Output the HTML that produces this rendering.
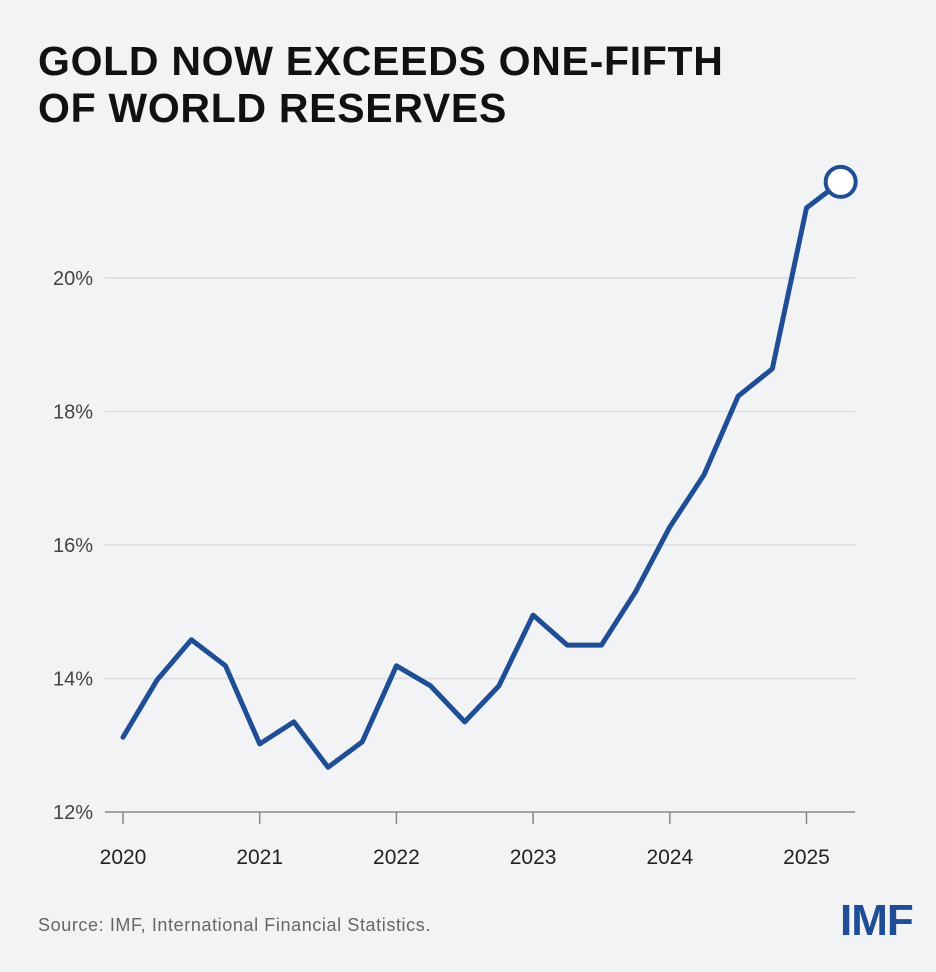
<!DOCTYPE html>
<html><head><meta charset="utf-8"><style>
body{margin:0;background:#f2f3f5;width:936px;height:972px;overflow:hidden;font-family:"Liberation Sans",sans-serif}
h1{position:absolute;left:38px;top:38px;margin:0;font-size:41px;line-height:47px;font-weight:bold;color:#111;letter-spacing:0.7px}
.src{position:absolute;left:38px;top:915px;font-size:18px;color:#666;letter-spacing:0.6px}
.logo{position:absolute;left:840px;top:896px;font-size:44px;font-weight:bold;color:#1f4e96;letter-spacing:-1px}
svg{position:absolute;left:0;top:0}
</style></head><body>
<h1>GOLD NOW EXCEEDS ONE-FIFTH<br>OF WORLD RESERVES</h1>
<svg id="c" width="936" height="972"></svg>
<div class="src">Source: IMF, International Financial Statistics.</div>
<div class="logo">IMF</div>
<script>
const yTicks=[12,14,16,18,20];
const yTickLabels=["12%","14%","16%","18%","20%"];
const xYears=[2020,2021,2022,2023,2024,2025];
const xYearLabels=["2020","2021","2022","2023","2024","2025"];
const times=[2020,2020.25,2020.5,2020.75,2021,2021.25,2021.5,2021.75,2022,2022.25,2022.5,2022.75,2023,2023.25,2023.5,2023.75,2024,2024.25,2024.5,2024.75,2025,2025.25];
const goldShare=[13.12,13.98,14.58,14.19,13.02,13.35,12.67,13.05,14.19,13.89,13.35,13.89,14.95,14.5,14.5,15.3,16.27,17.05,18.23,18.64,21.05,21.44];
const NS="http://www.w3.org/2000/svg";
const svg=document.getElementById('c');
const x=t=>123+(t-2020)*136.7;
const y=v=>812-(v-12)*66.75;
function mk(tag,attrs){const e=document.createElementNS(NS,tag);for(const k in attrs)e.setAttribute(k,attrs[k]);svg.appendChild(e);return e;}
yTicks.forEach((v,i)=>{
  if(i>0){const g=mk('line',{x1:105,x2:855,y1:y(v),y2:y(v),stroke:'#d9dbe0','stroke-width':1.5});
  
  }
  const t=mk('text',{x:93,y:y(v)+7,'text-anchor':'end','font-size':20,fill:'#444','font-family':'Liberation Sans, sans-serif'});
  t.textContent=yTickLabels[i];
  
  
});
const ax=mk('line',{x1:105,x2:855,y1:812,y2:812,stroke:'#888','stroke-width':1.5});


xYears.forEach((yr,i)=>{
  const tk=mk('line',{x1:x(yr),x2:x(yr),y1:812,y2:824,stroke:'#888','stroke-width':1.5});
  
  
  const t=mk('text',{x:x(yr),y:864,'text-anchor':'middle','font-size':21,fill:'#222','font-family':'Liberation Sans, sans-serif'});
  t.textContent=xYearLabels[i];
  
  
});
const pts=times.map((t,i)=>x(t)+','+y(goldShare[i])).join(' ');
const pl=mk('polyline',{points:pts,fill:'none',stroke:'#1f4e96','stroke-width':5,'stroke-linejoin':'round','stroke-linecap':'round'});


const n=times.length-1;
const c=mk('circle',{cx:x(times[n]),cy:y(goldShare[n]),r:15,fill:'#fff',stroke:'#1f4e96','stroke-width':4});


</script>
</body></html>
